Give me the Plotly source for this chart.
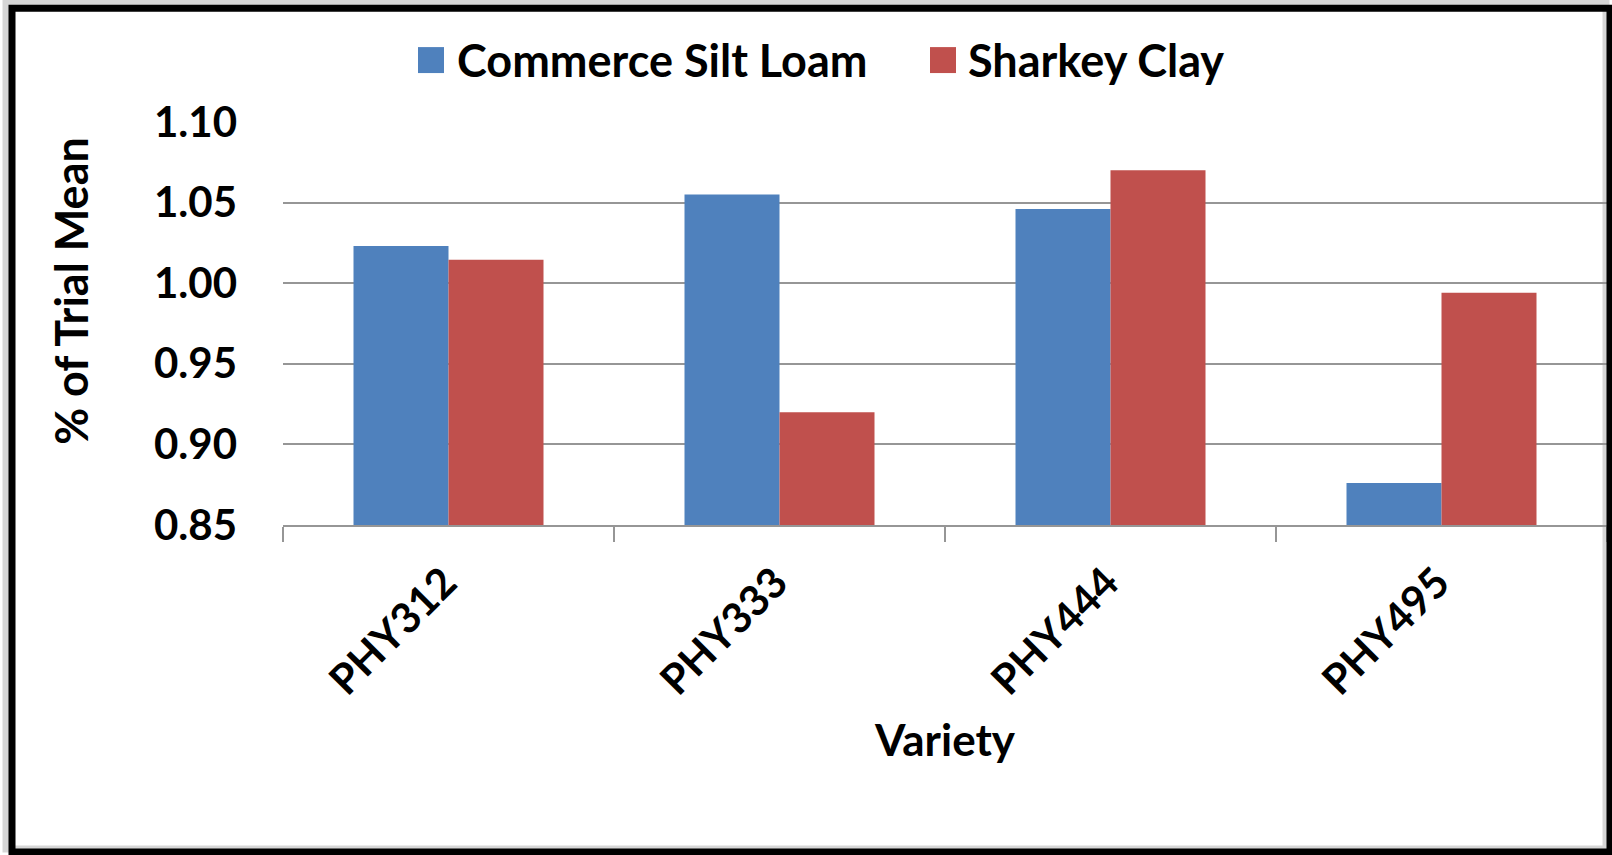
import plotly.graph_objects as go

categories = ["PHY312", "PHY333", "PHY444", "PHY495"]
series_names = ["Commerce Silt Loam", "Sharkey Clay"]
commerce_silt_loam = [1.023, 1.055, 1.046, 0.876]
sharkey_clay = [1.0145, 0.920, 1.070, 0.994]
series_values = [commerce_silt_loam, sharkey_clay]
colors = ["#4F81BD", "#C0504D"]
y_ticks = [0.85, 0.90, 0.95, 1.00, 1.05, 1.10]
y_tick_labels = ["0.85", "0.90", "0.95", "1.00", "1.05", "1.10"]
x_title = "Variety"
y_title = "% of Trial Mean"

W, H = 1612, 855
L, R, T, B = 283, 1607, 121, 525.5
PW, PH = R - L, B - T

def px(x):
    return (x - L) / PW

def py(y):
    return (B - y) / PH

FONT = "Lato"
fig = go.Figure()
for name, vals, col in zip(series_names, series_values, colors):
    fig.add_trace(go.Bar(
        x=categories, y=vals, name=name,
        marker=dict(color=col, line=dict(width=0)),
        showlegend=False,
    ))

shapes = []
annotations = []
# frame shadow
shapes.append(dict(type="rect", xref="paper", yref="paper",
                   x0=px(6), x1=px(1606), y0=py(3), y1=py(850),
                   line=dict(color="rgba(0,0,0,0.16)", width=7), layer="below"))
# frame
shapes.append(dict(type="rect", xref="paper", yref="paper",
                   x0=px(12), x1=px(1610), y0=py(8), y1=py(853),
                   line=dict(color="black", width=7)))

# manual legend
leg_items = [(418, 455), (930, 966)]
for (sx, tx), name, col in zip(leg_items, series_names, colors):
    shapes.append(dict(type="rect", xref="paper", yref="paper",
                       x0=px(sx), x1=px(sx + 26), y0=py(47), y1=py(73),
                       fillcolor=col, line=dict(width=0)))
    annotations.append(dict(xref="paper", yref="paper", x=px(tx), y=py(60),
                            xanchor="left", yanchor="middle", text=name,
                            showarrow=False,
                            font=dict(family=FONT, size=45, color="black", weight=700)))

# y axis title (placed off-centre as in the reference)
annotations.append(dict(xref="paper", yref="paper", x=px(71), y=py(291),
                        xanchor="center", yanchor="middle", text=y_title,
                        textangle=-90, showarrow=False,
                        font=dict(family=FONT, size=45, color="black", weight=700)))

fig.update_layout(
    width=W, height=H,
    margin=dict(l=L, r=W - R, t=T, b=H - B, pad=0),
    paper_bgcolor="white", plot_bgcolor="white",
    barmode="group", bargap=0.426, bargroupgap=0,
    shapes=shapes, annotations=annotations,
    font=dict(family=FONT, color="black", weight=700),
    xaxis=dict(
        type="category", tickangle=-45, tickson="boundaries",
        ticks="outside", ticklen=15, tickwidth=2, tickcolor="#969696",
        showline=True, linecolor="#969696", linewidth=2,
        showgrid=False,
        ticklabelstandoff=14, ticklabelshift=-4,
        tickfont=dict(family=FONT, size=42, color="black", weight=700),
        title=dict(text=x_title, standoff=22,
                   font=dict(family=FONT, size=44, color="black", weight=700)),
    ),
    yaxis=dict(
        range=[0.85, 1.1006],
        tickvals=y_ticks, ticktext=y_tick_labels,
        showgrid=True, gridcolor="#969696", gridwidth=2,
        zeroline=False, showline=False, ticks="",
        ticklabelstandoff=45,
        tickfont=dict(family=FONT, size=42, color="black", weight=700),
    ),
)
fig.write_html("out.html", config={"displayModeBar": False},
               post_script="document.body.style.margin='0';document.body.style.overflow='hidden';")
